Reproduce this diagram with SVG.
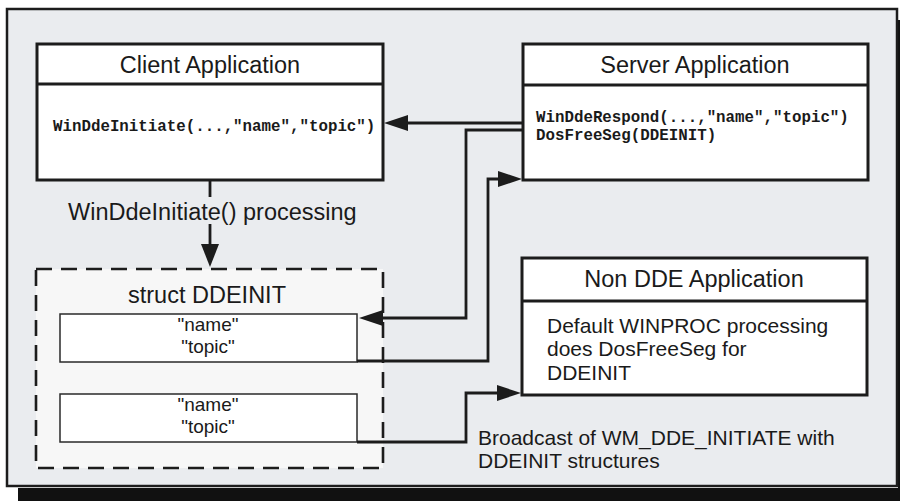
<svg xmlns="http://www.w3.org/2000/svg" width="900" height="501" viewBox="0 0 900 501">
<defs>
<style>
.box{fill:#ffffff;stroke:#1c1c1c;stroke-width:3}
.inner{fill:#ffffff;stroke:#2a2a2a;stroke-width:1.5}
.dash{fill:#f7f7f7;stroke:#1c1c1c;stroke-width:2.6;stroke-dasharray:16 9}
.conn{fill:none;stroke:#1c1c1c;stroke-width:2.8}
.head{fill:#1c1c1c}
.title{font-family:"Liberation Sans",Arial,sans-serif;font-size:23.5px;fill:#1a1a1a;text-anchor:middle}
.body{font-family:"Liberation Sans",Arial,sans-serif;font-size:21px;fill:#1a1a1a}
.field{font-family:"Liberation Sans",Arial,sans-serif;font-size:19px;fill:#1a1a1a;text-anchor:middle}
.code{font-family:"Liberation Mono","Courier New",monospace;font-weight:bold;font-size:15.8px;fill:#1a1a1a}
</style>
</defs>
<rect x="0" y="0" width="900" height="501" fill="#ffffff"/>
<rect x="18" y="488" width="882" height="13" fill="#111111"/>
<rect x="898" y="20" width="2" height="481" fill="#111111"/>
<rect x="7" y="9" width="890" height="477" fill="#eaecef" stroke="#1c1c1c" stroke-width="2.5"/>

<g id="client">
<rect class="box" x="37" y="44" width="346" height="136"/>
<line x1="37" y1="84" x2="383" y2="84" stroke="#1c1c1c" stroke-width="3"/>
<text class="title" x="210" y="73">Client Application</text>
<text class="code" x="53" y="131">WinDdeInitiate(...,"name","topic")</text>
</g>

<g id="server">
<rect class="box" x="523" y="44" width="345" height="136"/>
<line x1="523" y1="85" x2="868" y2="85" stroke="#1c1c1c" stroke-width="3"/>
<text class="title" x="695" y="73">Server Application</text>
<text class="code" x="536" y="122">WinDdeRespond(...,"name","topic")</text>
<text class="code" x="536" y="140">DosFreeSeg(DDEINIT)</text>
</g>

<g id="ddeinit">
<rect class="dash" x="36" y="269" width="347" height="199"/>
<text class="title" x="207" y="303">struct DDEINIT</text>
</g>

<g id="field1">
<rect class="inner" x="60" y="314" width="297" height="48"/>
<text class="field" x="208" y="331">"name"</text>
<text class="field" x="208" y="353">"topic"</text>
</g>

<g id="field2">
<rect class="inner" x="60" y="394" width="297" height="48"/>
<text class="field" x="208" y="411">"name"</text>
<text class="field" x="208" y="433">"topic"</text>
</g>

<g id="nondde">
<rect class="box" x="522" y="258" width="345" height="137"/>
<line x1="522" y1="301" x2="867" y2="301" stroke="#1c1c1c" stroke-width="3"/>
<text class="title" x="694" y="287">Non DDE Application</text>
<text class="body" x="547" y="333">Default WINPROC processing</text>
<text class="body" x="547" y="356">does DosFreeSeg for</text>
<text class="body" x="547" y="380">DDEINIT</text>
</g>

<g id="connectors">
<line class="conn" x1="523" y1="123" x2="406" y2="123"/>
<polygon class="head" points="384,123 408,115 408,131"/>

<polyline class="conn" points="523,130 466,130 466,318 381,318"/>
<polygon class="head" points="359,318 383,310 383,326"/>

<polyline class="conn" points="357,361 488,361 488,179 500,179"/>
<polygon class="head" points="522,179 498,171 498,187"/>

<polyline class="conn" points="357,442 466,442 466,393 498,393"/>
<polygon class="head" points="521,393 497,385 497,401"/>

<line class="conn" x1="210" y1="180" x2="210" y2="197"/>
<line class="conn" x1="210" y1="224" x2="210" y2="246"/>
<polygon class="head" points="210,267 201,244 219,244"/>

<text class="title" x="68" y="220" style="text-anchor:start">WinDdeInitiate() processing</text>
<text class="body" x="478" y="445">Broadcast of WM_DDE_INITIATE with</text>
<text class="body" x="478" y="468">DDEINIT structures</text>
</g>
</svg>
